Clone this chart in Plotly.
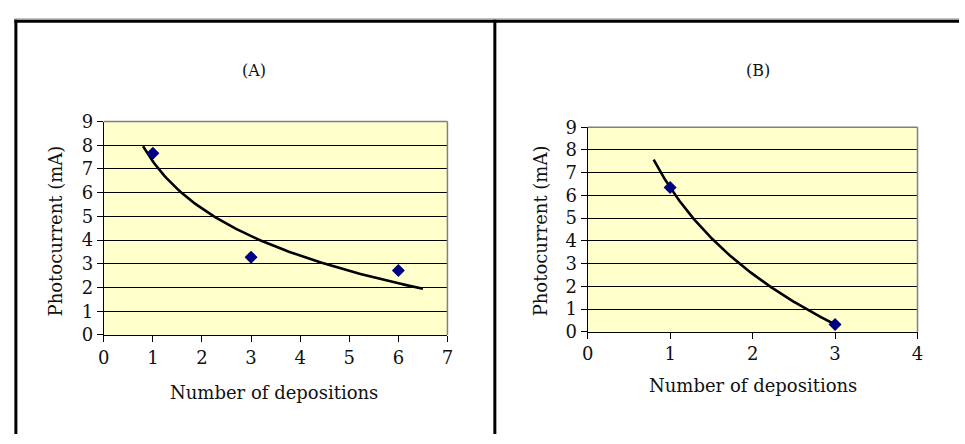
import numpy as np
import plotly.graph_objects as go

# ---- data ----
a_x = [1, 3, 6]
a_y = [7.66, 3.28, 2.72]
b_x = [1, 3]
b_y = [6.35, 0.32]

a_trend_range = [0.8, 6.5]   # logarithmic trendline, forecast back 0.2 / forward 0.5
b_trend_range = [0.8, 3.0]   # logarithmic trendline, forecast back 0.2

x_ticks_a = [0, 1, 2, 3, 4, 5, 6, 7]
x_ticks_b = [0, 1, 2, 3, 4]
y_ticks = [0, 1, 2, 3, 4, 5, 6, 7, 8, 9]

titles = ["(A)", "(B)"]
x_title = "Number of depositions"
y_title = "Photocurrent (mA)"


def log_trend(xs, ys, rng, n=120):
    b, a = np.polyfit(np.log(np.array(xs, float)), np.array(ys, float), 1)
    tx = np.linspace(rng[0], rng[1], n)
    return tx, a + b * np.log(tx)


W, H = 965, 444
FONT = "DejaVu Serif"


def px(x):
    return x / W


def py(y):
    return 1 - y / H


fig = go.Figure()

ta_x, ta_y = log_trend(a_x, a_y, a_trend_range)
tb_x, tb_y = log_trend(b_x, b_y, b_trend_range)

fig.add_trace(go.Scatter(x=ta_x, y=ta_y, mode="lines", line=dict(color="black", width=2.6),
                         xaxis="x", yaxis="y", showlegend=False, hoverinfo="skip"))
fig.add_trace(go.Scatter(x=a_x, y=a_y, mode="markers",
                         marker=dict(symbol="diamond", size=10, color="#000080"),
                         xaxis="x", yaxis="y", showlegend=False))
fig.add_trace(go.Scatter(x=tb_x, y=tb_y, mode="lines", line=dict(color="black", width=2.6),
                         xaxis="x2", yaxis="y2", showlegend=False, hoverinfo="skip"))
fig.add_trace(go.Scatter(x=b_x, y=b_y, mode="markers",
                         marker=dict(symbol="diamond", size=10, color="#000080"),
                         xaxis="x2", yaxis="y2", showlegend=False))

common_x = dict(showgrid=False, zeroline=False, showline=True, linecolor="black", linewidth=1,
                ticks="outside", ticklen=6, tickcolor="black", tickwidth=1,
                tickfont=dict(family=FONT, size=18, color="#111"), fixedrange=True)
common_y = dict(showgrid=True, gridcolor="black", gridwidth=1, zeroline=False, showline=True,
                linecolor="black", linewidth=1, ticks="outside", ticklen=6, tickcolor="black",
                tickwidth=1, tickfont=dict(family=FONT, size=18, color="#111"), fixedrange=True,
                range=[0, 9], tickvals=y_ticks)

fig.update_layout(
    width=W, height=H,
    margin=dict(l=0, r=0, t=0, b=0),
    paper_bgcolor="white", plot_bgcolor="#FFFFCC",
    xaxis=dict(common_x, domain=[px(99), px(447)], range=[0, 7], tickvals=x_ticks_a, anchor="y"),
    yaxis=dict(common_y, domain=[py(340), py(116)], anchor="x"),
    xaxis2=dict(common_x, domain=[px(589), px(923)], range=[0, 4], tickvals=x_ticks_b, anchor="y2"),
    yaxis2=dict(common_y, domain=[py(336.7), py(122)], anchor="x2"),
)

shapes = []
# grey border on top and right of plot areas
for xr, yr in [("x", "y"), ("x2", "y2")]:
    shapes.append(dict(type="line", xref=xr + " domain", yref=yr + " domain", x0=0, x1=1, y0=1, y1=1,
                       line=dict(color="#808080", width=1.5)))
    shapes.append(dict(type="line", xref=xr + " domain", yref=yr + " domain", x0=1, x1=1, y0=0, y1=1,
                       line=dict(color="#808080", width=1.5)))
# panel frames
shapes.append(dict(type="line", xref="paper", yref="paper", x0=px(8), x1=1, y0=py(8.3), y1=py(8.3),
                   line=dict(color="#999999", width=1)))
shapes.append(dict(type="line", xref="paper", yref="paper", x0=px(8.5), x1=1, y0=py(10.7), y1=py(10.7),
                   line=dict(color="black", width=3)))
shapes.append(dict(type="line", xref="paper", yref="paper", x0=px(10), x1=px(10), y0=0, y1=py(9.2),
                   line=dict(color="black", width=3)))
shapes.append(dict(type="line", xref="paper", yref="paper", x0=px(495), x1=px(495), y0=0, y1=py(9.2),
                   line=dict(color="black", width=3)))
fig.update_layout(shapes=shapes)

ann = []
for t, xc in zip(titles, [251.5, 761.5]):
    ann.append(dict(text=t, x=px(xc), y=py(62), xref="paper", yref="paper", showarrow=False,
                    font=dict(family=FONT, size=16, color="#111"), xanchor="center", yanchor="middle"))
for xc, yc in [(271, 400), (756.5, 393)]:
    ann.append(dict(text=x_title, x=px(xc), y=py(yc), xref="paper", yref="paper", showarrow=False,
                    font=dict(family=FONT, size=18, color="#111"), xanchor="center", yanchor="middle"))
for xc, yc in [(50, 231), (541, 231)]:
    ann.append(dict(text=y_title, x=px(xc), y=py(yc), xref="paper", yref="paper", showarrow=False,
                    textangle=-90, font=dict(family=FONT, size=18, color="#111"),
                    xanchor="center", yanchor="middle"))
fig.update_layout(annotations=ann)

fig.write_html("out.html")
